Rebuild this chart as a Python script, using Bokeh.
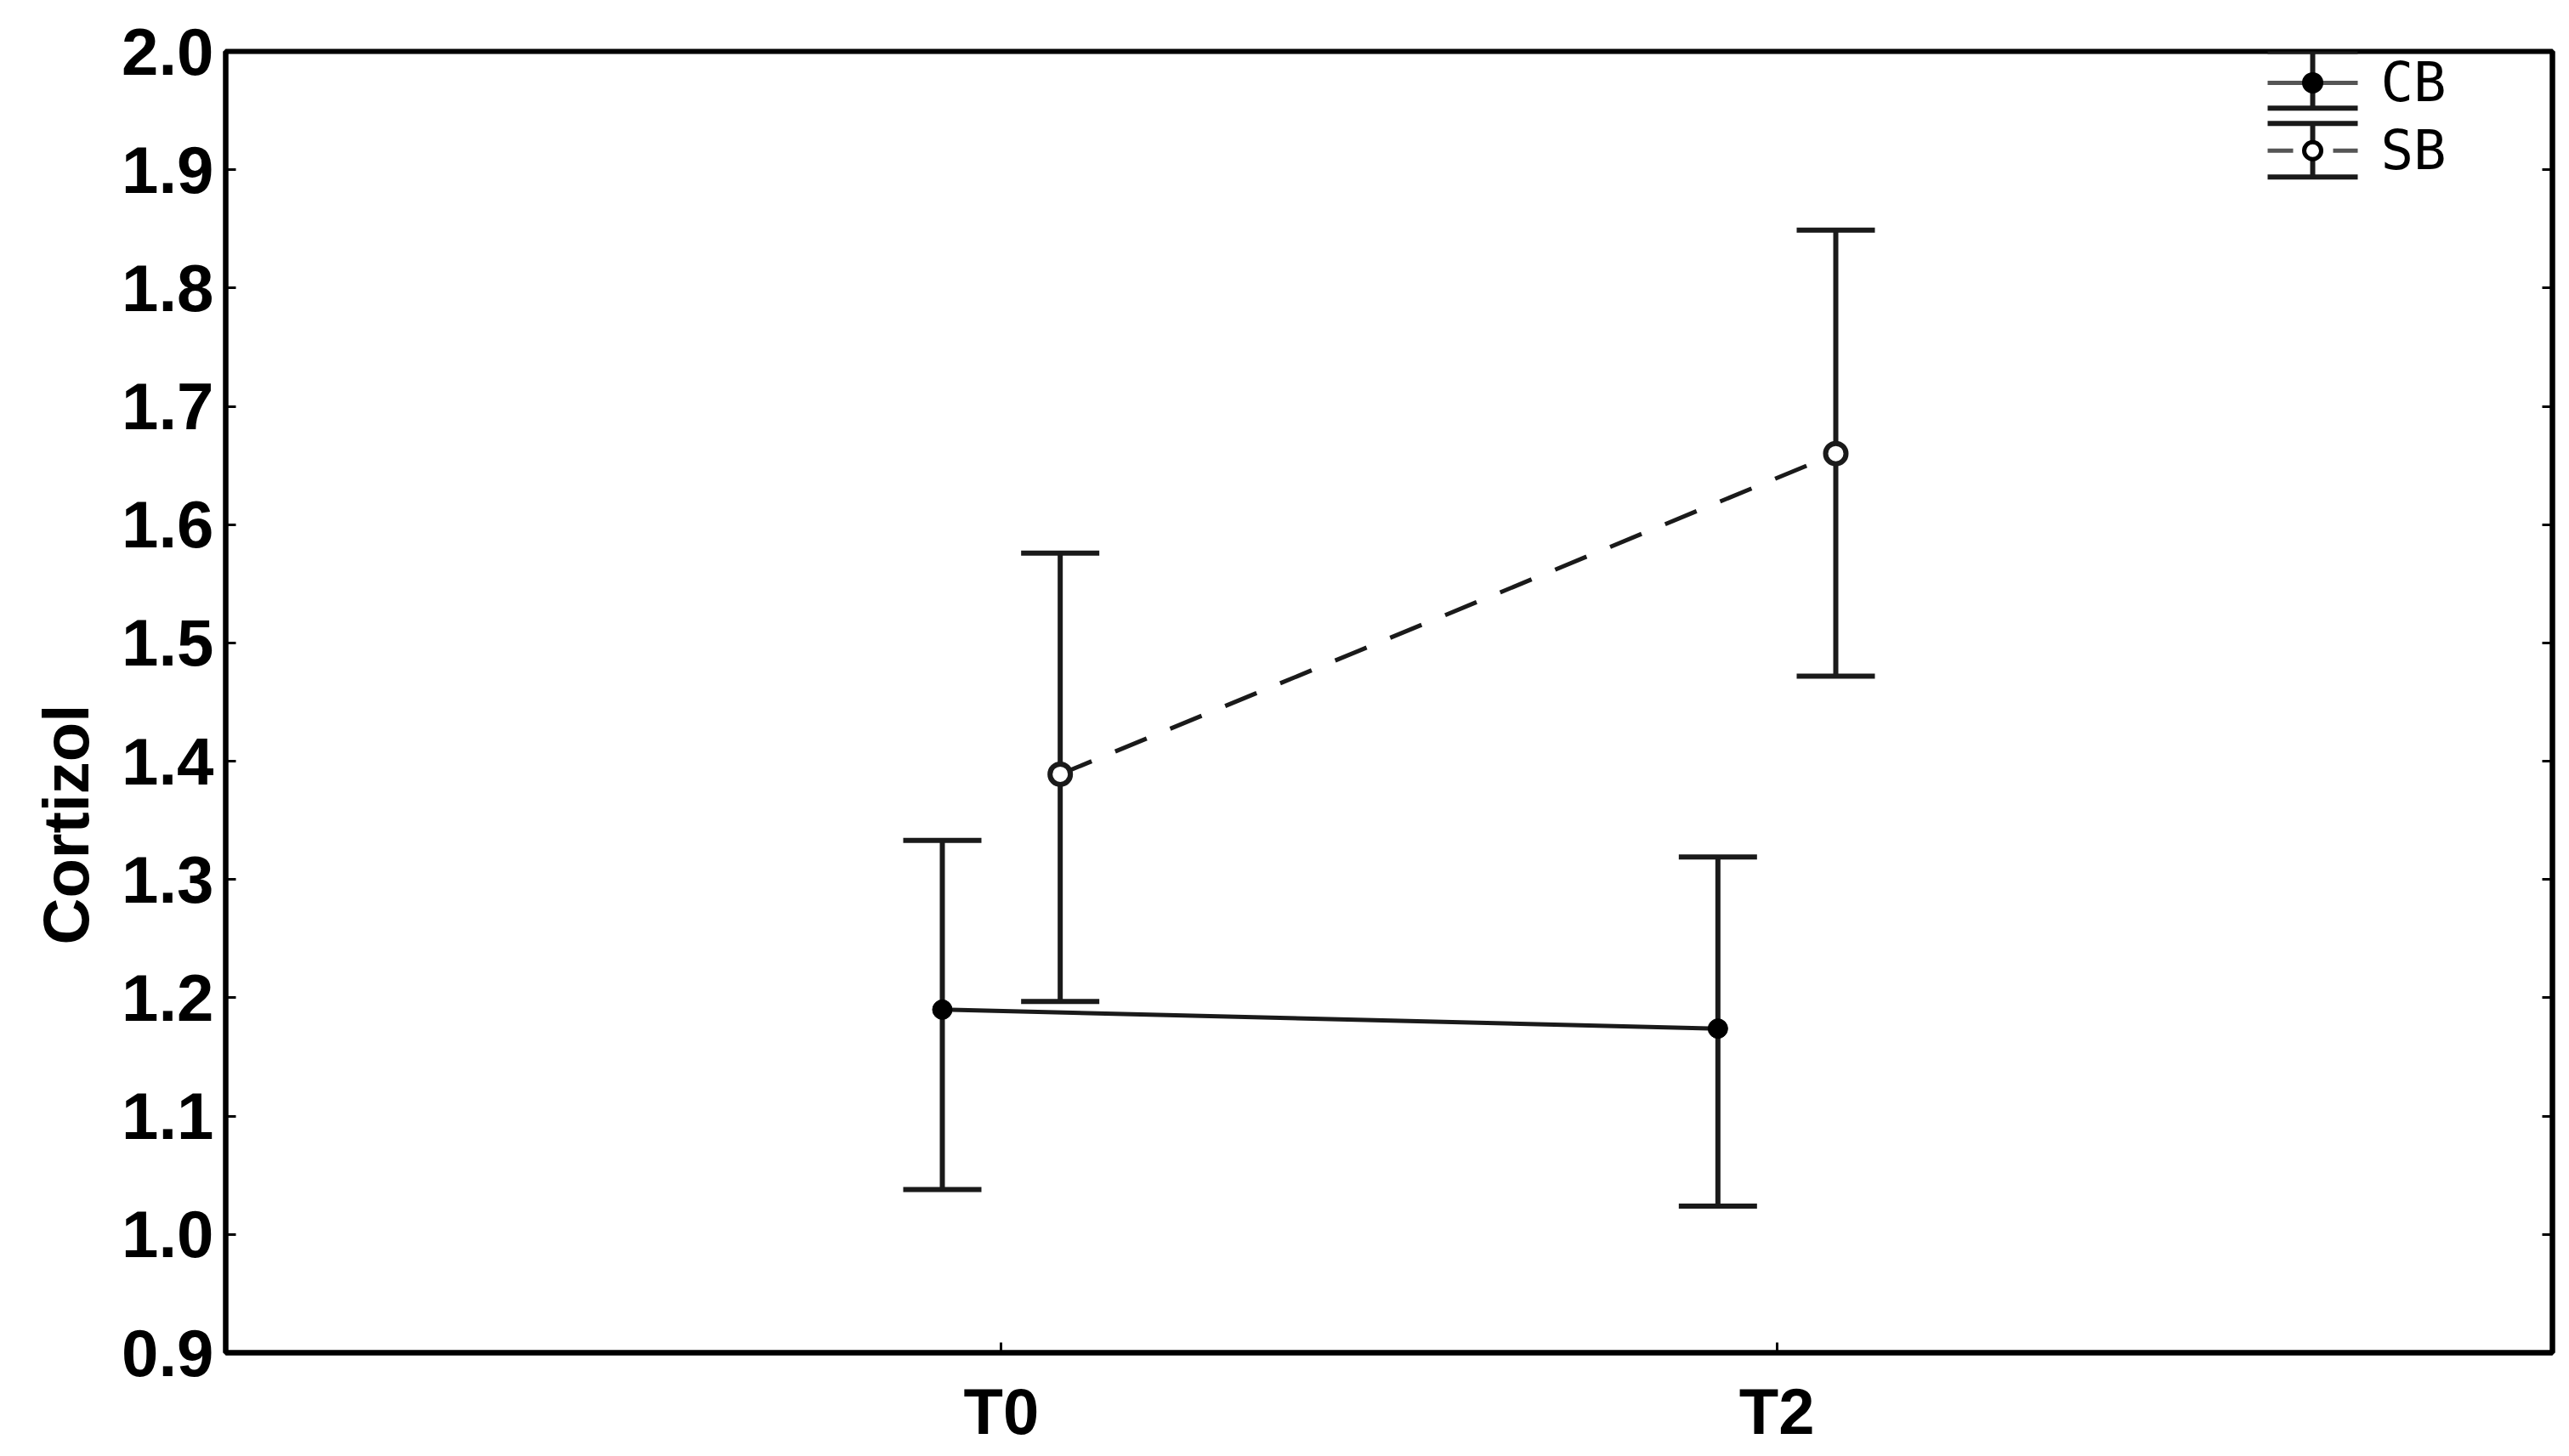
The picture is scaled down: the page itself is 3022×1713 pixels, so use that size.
from bokeh.plotting import figure
from bokeh.models import (ColumnDataSource, Whisker, TeeHead, FixedTicker, LinearAxis,
                          Range1d, PrintfTickFormatter, Title)
from bokeh.core.properties import value
from bokeh.embed import file_html
from bokeh.resources import INLINE

# ---------------- data ----------------
times = ["T0", "T2"]
time_pos = [1, 2]
series_names = ["CB", "SB"]
y_title = "Cortizol"
cb_mean = [1.190, 1.174]
cb_upper = [1.333, 1.319]
cb_lower = [1.038, 1.024]
sb_mean = [1.389, 1.660]
sb_upper = [1.576, 1.849]
sb_lower = [1.197, 1.472]
y_ticks = [0.9, 1.0, 1.1, 1.2, 1.3, 1.4, 1.5, 1.6, 1.7, 1.8, 1.9, 2.0]

# ---------------- layout ----------------
W, H = 3014, 1705
BL, BR, BT, BB = 265, 12, 60, 111
X0, X1 = 0, 3
Y0, Y1 = 0.9, 2.0
FW = W - BL - BR
FH = H - BT - BB
xpp = (X1 - X0) / FW
ypp = (Y1 - Y0) / FH
DODGE = 0.076
INK = "#1a1a1a"
LW = 6

p = figure(width=W, height=H, x_range=Range1d(X0, X1), y_range=Range1d(Y0, Y1),
           output_backend="svg", toolbar_location=None,
           min_border_left=BL, min_border_right=BR, min_border_top=BT, min_border_bottom=BB)
p.background_fill_color = "white"
p.border_fill_color = "white"
p.outline_line_color = "black"
p.outline_line_width = 6
p.xgrid.visible = False
p.ygrid.visible = False

# x axis
p.xaxis.ticker = FixedTicker(ticks=time_pos)
p.xaxis.major_label_overrides = dict(zip(time_pos, times))
# y axis
p.yaxis.ticker = FixedTicker(ticks=y_ticks)
p.yaxis.formatter = PrintfTickFormatter(format="%.1f")

for ax in (p.xaxis[0], p.yaxis[0]):
    ax.axis_line_width = 6
    ax.axis_line_color = "black"
    ax.major_tick_in = 12
    ax.major_tick_out = 0
    ax.major_tick_line_width = 3
    ax.minor_tick_line_color = None
    ax.major_label_text_font = "Liberation Sans"
    ax.major_label_text_font_style = "bold"
    ax.major_label_text_color = "black"
p.yaxis.major_label_text_font_size = "78px"
p.yaxis.major_label_standoff = 14
p.xaxis.major_label_text_font_size = "76px"
p.xaxis.major_label_standoff = 26

# right axis with inner ticks only
rax = LinearAxis(ticker=FixedTicker(ticks=y_ticks), major_tick_in=12, major_tick_out=0,
                 major_tick_line_width=3, minor_tick_line_color=None,
                 axis_line_width=6, major_label_text_font_size="1px",
                 major_label_text_color=None, major_label_standoff=0)
p.add_layout(rax, "right")

# y title as a side title, placed below the axis centre as in the original
p.add_layout(Title(text=y_title, align="left", offset=480, standoff=42,
                   text_font="Liberation Sans", text_font_style="bold",
                   text_font_size="76px", text_color="black"), "left")

# ---------------- series ----------------
cb_x = [t - DODGE for t in time_pos]
sb_x = [t + DODGE for t in time_pos]
cb_src = ColumnDataSource(dict(x=cb_x, m=cb_mean, lo=cb_lower, hi=cb_upper))
sb_src = ColumnDataSource(dict(x=sb_x, m=sb_mean, lo=sb_lower, hi=sb_upper))

CAP = 92
for src in (cb_src, sb_src):
    w = Whisker(source=src, base="x", upper="hi", lower="lo", dimension="height",
                line_color=INK, line_width=LW,
                upper_head=TeeHead(size=CAP, line_width=LW, line_color=INK),
                lower_head=TeeHead(size=CAP, line_width=LW, line_color=INK))
    p.add_layout(w)

p.line("x", "m", source=cb_src, line_color=INK, line_width=5)
p.line("x", "m", source=sb_src, line_color=INK, line_width=5, line_dash="40 30")
p.scatter("x", "m", source=cb_src, size=23, marker="circle", fill_color="black", line_color="black")
p.scatter("x", "m", source=sb_src, size=24, marker="circle", fill_color="white",
          line_color=INK, line_width=6)

# ---------------- legend (drawn in plot, pixel offsets from frame top-right) ----------------
leg_cx = X0 + 2455 * xpp
leg_hw = 53 * xpp
leg_tx = X0 + 2535 * xpp
rows = [  # top cap, marker, bottom cap (px below frame top)
    (0, 37, 67),
    (85, 117, 148),
]
styles = [("solid", "black"), ("30 47", "white")]
for (t_px, m_px, b_px), (dash, fill), name in zip(rows, styles, series_names):
    yt, ym, yb = Y1 - t_px * ypp, Y1 - m_px * ypp, Y1 - b_px * ypp
    p.segment(x0=[leg_cx - leg_hw, leg_cx - leg_hw, leg_cx],
              x1=[leg_cx + leg_hw, leg_cx + leg_hw, leg_cx],
              y0=[yt, yb, yt], y1=[yt, yb, yb], line_color=INK, line_width=6)
    p.segment(x0=[leg_cx - leg_hw], x1=[leg_cx + leg_hw], y0=[ym], y1=[ym],
              line_color="#555555", line_width=5, line_dash=dash)
    p.scatter([leg_cx], [ym], size=20, marker="circle", fill_color=fill,
              line_color="black", line_width=5)
    p.text([leg_tx], [ym], text=[name], text_font=value("DejaVu Sans Mono"),
           text_font_size="64px", text_baseline="middle", text_align="left",
           text_color="black")

open("out.html", "w").write(file_html(p, INLINE))
